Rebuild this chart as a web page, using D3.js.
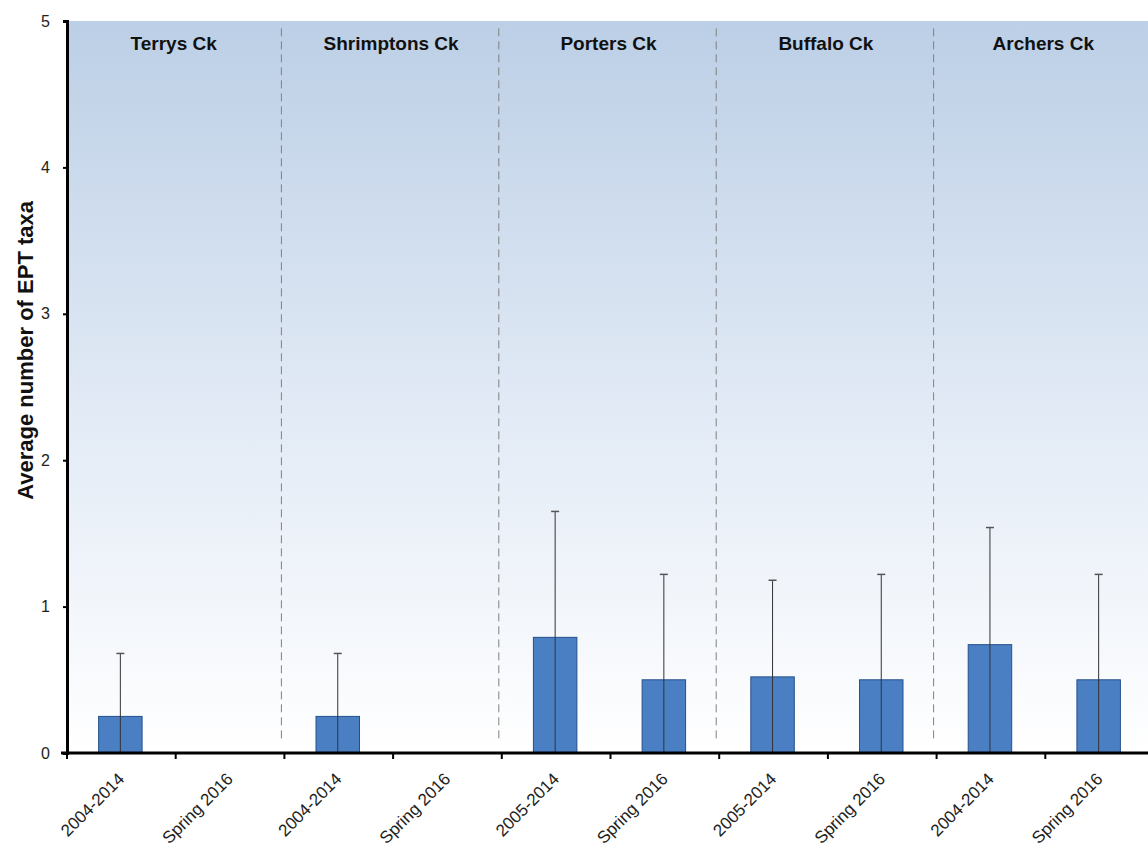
<!DOCTYPE html>
<html>
<head>
<meta charset="utf-8">
<script src="https://cdn.jsdelivr.net/npm/d3@7"></script>
<style>
  body { margin: 0; background: #fff; }
  svg { display: block; }
</style>
</head>
<body>
<div id="chart"></div>
<script>
// ── Data ──
const SITES = ['Terrys Ck', 'Shrimptons Ck', 'Porters Ck', 'Buffalo Ck', 'Archers Ck'];
const PERIODS = [
    ['2004-2014', 'Spring 2016'],
    ['2004-2014', 'Spring 2016'],
    ['2005-2014', 'Spring 2016'],
    ['2005-2014', 'Spring 2016'],
    ['2004-2014', 'Spring 2016'],
];
const MEANS = [0.25, 0, 0.25, 0, 0.79, 0.5, 0.52, 0.5, 0.74, 0.5];
const ERR_TOP = [0.68, null, 0.68, null, 1.65, 1.22, 1.18, 1.22, 1.54, 1.22];
const Y_TICKS = [0, 1, 2, 3, 4, 5];

const FONT = "'Liberation Sans', Arial, sans-serif";
const width = 1148, height = 850;
const margin = { top: 21, left: 67, bottom: 97 };
const bandW = 108.7;

const cats = [];
PERIODS.forEach((pair, si) => pair.forEach((p, pi) => cats.push({ key: si + '_' + pi, label: p, site: si })));

const svg = d3.select('#chart').append('svg')
    .attr('width', width).attr('height', height);

const x = d3.scaleBand()
    .domain(cats.map(d => d.key))
    .range([margin.left, margin.left + bandW * cats.length])
    .paddingInner(0).paddingOuter(0);
const y = d3.scaleLinear().domain([0, 5]).range([height - margin.bottom, margin.top]);

// Background gradient
const defs = svg.append('defs');
const grad = defs.append('linearGradient').attr('id', 'bg').attr('x1', 0).attr('y1', 0).attr('x2', 0).attr('y2', 1);
grad.append('stop').attr('offset', '0%').attr('stop-color', '#bccfe6');
grad.append('stop').attr('offset', '55%').attr('stop-color', '#e3ebf6');
grad.append('stop').attr('offset', '100%').attr('stop-color', '#ffffff');

svg.append('rect')
    .attr('x', margin.left).attr('y', y(5))
    .attr('width', width - margin.left).attr('height', y(0) - y(5))
    .attr('fill', 'url(#bg)');

// Site separators
for (let i = 1; i < SITES.length; i++) {
    const sx = x(i + '_0') - 3;
    svg.append('line')
        .attr('x1', sx).attr('x2', sx)
        .attr('y1', y(4.95)).attr('y2', y(0.08))
        .attr('stroke', '#808080').attr('stroke-width', 1)
        .attr('stroke-dasharray', '8,5');
}

// Site titles
SITES.forEach((s, i) => {
    const cx = x(i + '_1');
    svg.append('text')
        .attr('x', cx - 2).attr('y', 50)
        .attr('text-anchor', 'middle')
        .attr('font-family', FONT)
        .attr('font-size', '19px').attr('font-weight', 'bold')
        .attr('fill', '#111')
        .text(s);
});

// Bars
const barW = bandW * 0.4;
svg.append('g').selectAll('rect')
    .data(cats.map((c, i) => ({ ...c, v: MEANS[i] })).filter(d => d.v > 0))
    .join('rect')
    .attr('x', d => x(d.key) + (bandW - barW) / 2 - 1)
    .attr('y', d => y(d.v))
    .attr('width', barW)
    .attr('height', d => y(0) - y(d.v))
    .attr('fill', '#4a7fc4')
    .attr('stroke', '#24508c')
    .attr('stroke-width', 1);

// Error bars
const errs = cats.map((c, i) => ({ ...c, e: ERR_TOP[i] })).filter(d => d.e != null);
const eg = svg.append('g');
errs.forEach(d => {
    const cx = x(d.key) + bandW / 2 - 1;
    eg.append('line')
        .attr('x1', cx).attr('x2', cx)
        .attr('y1', y(0)).attr('y2', y(d.e))
        .attr('stroke', '#333').attr('stroke-width', 1);
    eg.append('line')
        .attr('x1', cx - 4).attr('x2', cx + 4)
        .attr('y1', y(d.e)).attr('y2', y(d.e))
        .attr('stroke', '#555').attr('stroke-width', 1.5);
});

// Y axis
const yAxis = svg.append('g')
    .attr('transform', `translate(${margin.left},0)`)
    .call(d3.axisLeft(y).tickValues(Y_TICKS).tickFormat(d3.format('d')).tickSize(4).tickPadding(13));
yAxis.select('.domain').attr('stroke', '#000').attr('stroke-width', 3);
yAxis.selectAll('.tick line').attr('stroke', '#000').attr('stroke-width', 2);
yAxis.selectAll('text')
    .attr('font-family', FONT)
    .attr('font-size', '16px').attr('fill', '#222');

// X axis (ticks at band boundaries)
const bounds = d3.range(cats.length).map(i => margin.left + i * bandW);
const xg = svg.append('g');
xg.append('line')
    .attr('x1', margin.left - 6).attr('x2', width)
    .attr('y1', y(0)).attr('y2', y(0))
    .attr('stroke', '#000').attr('stroke-width', 3);
bounds.forEach(b => {
    xg.append('line')
        .attr('x1', b).attr('x2', b)
        .attr('y1', y(0)).attr('y2', y(0) + 6)
        .attr('stroke', '#000').attr('stroke-width', 2);
});
xg.selectAll('text.xl')
    .data(cats)
    .join('text')
    .attr('class', 'xl')
    .attr('transform', d => `translate(${x(d.key) + bandW / 2 + 4},${y(0) + 27}) rotate(-45)`)
    .attr('text-anchor', 'end')
    .attr('font-family', FONT)
    .attr('font-size', '17px').attr('fill', '#222')
    .text(d => d.label);

// Y label
svg.append('text')
    .attr('transform', `translate(33,${y(2.75)}) rotate(-90)`)
    .attr('text-anchor', 'middle')
    .attr('font-family', FONT)
    .attr('font-size', '22px').attr('font-weight', 'bold')
    .attr('fill', '#111')
    .text('Average number of EPT taxa');
</script>
</body>
</html>
